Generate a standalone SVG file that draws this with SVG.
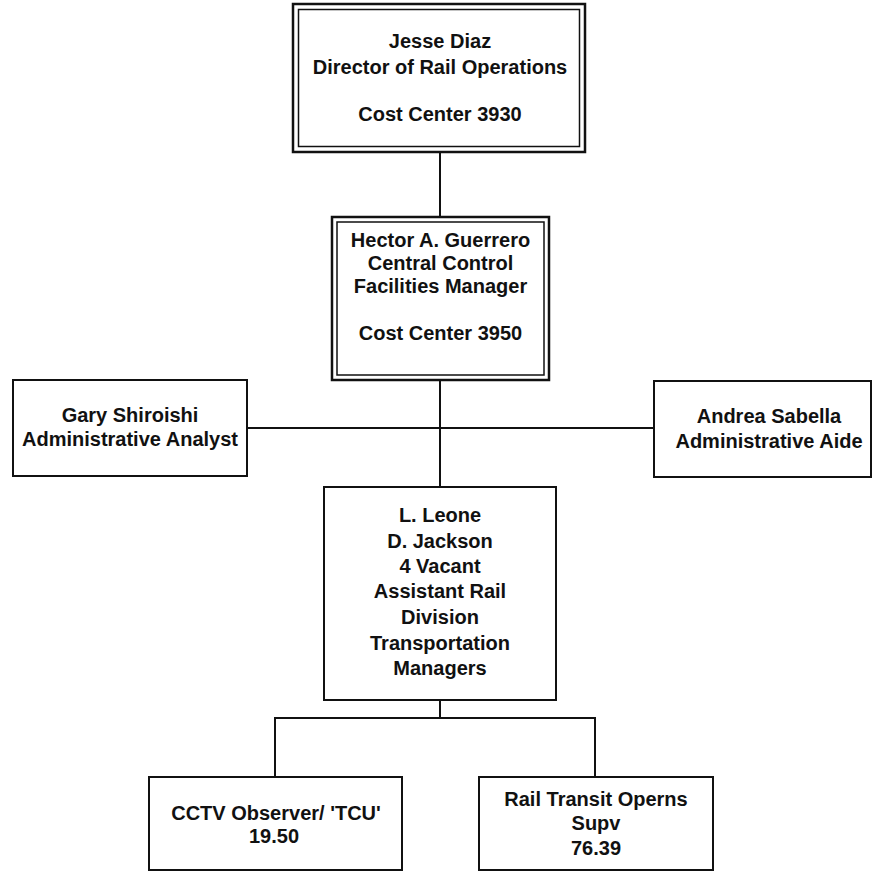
<svg xmlns="http://www.w3.org/2000/svg" width="874" height="872" viewBox="0 0 874 872">
<style>
.box{fill:#fff;stroke:#111;stroke-width:2}
.outer{fill:#fff;stroke:#111;stroke-width:2.5}
.inner{fill:none;stroke:#111;stroke-width:1.5}
.conn{stroke:#111;stroke-width:2;fill:none}
text{font-family:"Liberation Sans",Arial,sans-serif;font-weight:bold;font-size:20px;fill:#111;text-anchor:middle}
</style>
<rect width="874" height="872" fill="#fff"/>
<g id="connectors">
<line class="conn" x1="440" y1="152" x2="440" y2="217"/>
<line class="conn" x1="440" y1="380" x2="440" y2="487"/>
<line class="conn" x1="247" y1="428" x2="654" y2="428"/>
<polyline class="conn" points="440,700 440,718"/>
<polyline class="conn" points="275,777 275,718 595,718 595,777"/>
</g>
<g id="jesse">
<rect class="outer" x="293" y="4" width="292" height="148"/>
<rect class="inner" x="298.5" y="9.5" width="281" height="137"/>
<text x="440" y="48">Jesse Diaz</text>
<text x="440" y="74">Director of Rail Operations</text>
<text x="440" y="121">Cost Center 3930</text>
</g>
<g id="hector">
<rect class="outer" x="332" y="217" width="217" height="163"/>
<rect class="inner" x="337" y="222" width="207" height="153"/>
<text x="440.5" y="247">Hector A. Guerrero</text>
<text x="440.5" y="270">Central Control</text>
<text x="440.5" y="293">Facilities Manager</text>
<text x="440.5" y="340">Cost Center 3950</text>
</g>
<g id="gary">
<rect class="box" x="13" y="380" width="234" height="96"/>
<text x="130" y="422">Gary Shiroishi</text>
<text x="130" y="446">Administrative Analyst</text>
</g>
<g id="andrea">
<rect class="box" x="654" y="381" width="217" height="96"/>
<text x="769" y="423">Andrea Sabella</text>
<text x="769" y="448">Administrative Aide</text>
</g>
<g id="leone">
<rect class="box" x="324" y="487" width="232" height="213"/>
<text x="440" y="522">L. Leone</text>
<text x="440" y="548">D. Jackson</text>
<text x="440" y="573">4 Vacant</text>
<text x="440" y="598">Assistant Rail</text>
<text x="440" y="624">Division</text>
<text x="440" y="650">Transportation</text>
<text x="440" y="675">Managers</text>
</g>
<g id="cctv">
<rect class="box" x="149" y="777" width="253" height="93"/>
<text x="276" y="820">CCTV Observer/ 'TCU'</text>
<text x="274" y="843">19.50</text>
</g>
<g id="rail">
<rect class="box" x="479" y="777" width="234" height="93"/>
<text x="596" y="806">Rail Transit Operns</text>
<text x="596" y="830">Supv</text>
<text x="596" y="855">76.39</text>
</g>
</svg>
